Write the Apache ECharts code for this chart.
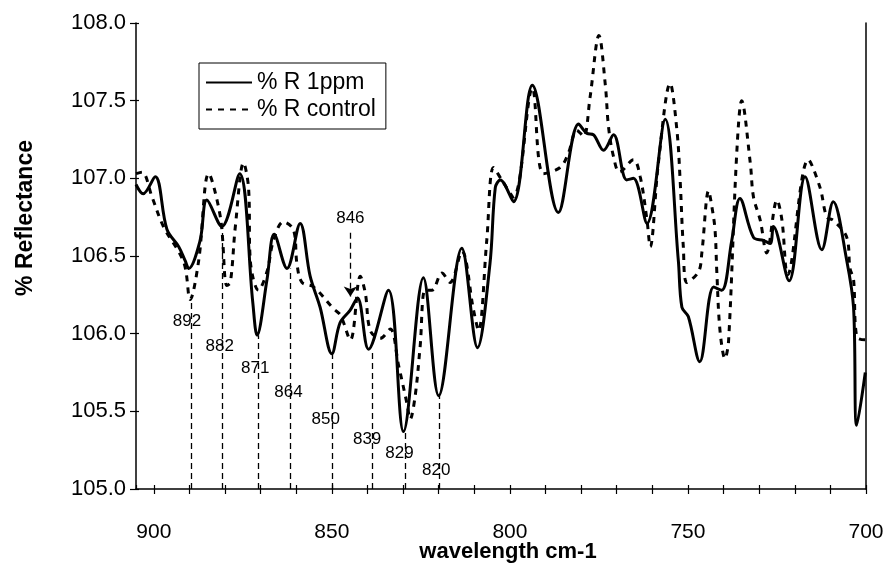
<!DOCTYPE html>
<html>
<head>
<meta charset="utf-8">
<script src="https://cdn.jsdelivr.net/npm/echarts@6/dist/echarts.min.js"></script>
<style>
html,body{margin:0;padding:0;background:#fff;}
#chart{width:888px;height:565px;}
</style>
</head>
<body>
<div id="chart"></div>
<script>
// ---- data ----
const ppmX = [905, 903, 899.6, 896.3, 893.0, 891.2, 890.2, 887, 885.1, 880.9, 875.9, 872.2, 871, 868.2, 866.2, 862.6, 858.9, 856.1, 853.3, 850, 847.7, 844.9, 842.8, 839.7, 834.1, 829.9, 824.3, 820.0, 813.5, 809.1, 805.6, 804.1, 802.7, 799, 793.7, 786.4, 780.7, 778.4, 776.5, 773.7, 770.9, 767.2, 765.3, 761.5, 756.4, 752.7, 751.7, 749.9, 746.7, 742.8, 740.5, 737.7, 735.4, 731.6, 728.8, 726.9, 726, 721.6, 717.1, 712.4, 709.2, 705.4, 703.5, 702.6, 700.2];
const ppmY = [106.96, 106.90, 107.01, 106.67, 106.56, 106.47, 106.42, 106.60, 106.86, 106.69, 107.03, 106.20, 105.99, 106.35, 106.64, 106.42, 106.71, 106.37, 106.17, 105.87, 106.07, 106.15, 106.23, 105.90, 106.28, 105.37, 106.36, 105.60, 106.55, 105.91, 106.45, 106.94, 106.99, 106.85, 107.60, 106.78, 107.35, 107.29, 107.28, 107.18, 107.28, 106.99, 107.00, 106.71, 107.38, 106.47, 106.17, 106.11, 105.82, 106.30, 106.28, 106.60, 106.87, 106.62, 106.60, 106.58, 106.69, 106.34, 107.01, 106.54, 106.85, 106.47, 106.17, 105.41, 105.75];

const ctrlX = [905, 903.3, 900.5, 897.3, 891.6, 889.8, 887.4, 884.6, 881.3, 879.5, 878.5, 877.1, 874.8, 873.4, 872.9, 870.6, 868.2, 866.4, 863.6, 860.8, 859.8, 858.4, 855.1, 849.5, 847.6, 844.8, 842.0, 840.6, 839.2, 836.4, 833.6, 831.3, 828.9, 828.0, 826.6, 825.2, 823.8, 821.9, 819.1, 816.8, 813.5, 810.2, 808.8, 806.5, 804.6, 802.3, 799, 793.7, 790.6, 785.9, 783.6, 781.2, 779.3, 777.5, 775.0, 773.2, 772.3, 770.9, 769.2, 765.3, 763.4, 761.5, 760.6, 758.3, 755.0, 753.1, 752.2, 751.3, 750.3, 747.0, 746.1, 744.2, 743.3, 742.4, 741.9, 741.0, 739.6, 738.6, 736.3, 734.9, 732.5, 731.6, 729.7, 727.9, 725.0, 723.6, 722.0, 716.2, 712.9, 711.0, 709.2, 705.4, 704.5, 703.5, 702.6, 700];
const ctrlY = [107.03, 107.04, 106.88, 106.69, 106.46, 106.22, 106.47, 107.03, 106.75, 106.31, 106.33, 106.69, 107.10, 106.94, 106.47, 106.28, 106.40, 106.60, 106.72, 106.67, 106.45, 106.33, 106.30, 106.16, 106.12, 105.96, 106.37, 106.26, 106.02, 105.97, 106.03, 105.80, 105.55, 105.45, 105.60, 105.92, 106.28, 106.28, 106.39, 106.33, 106.53, 106.15, 106.02, 106.60, 107.07, 106.99, 106.88, 107.58, 107.03, 107.07, 107.16, 107.31, 107.27, 107.52, 107.92, 107.60, 107.33, 107.14, 107.04, 107.12, 107.01, 106.73, 106.56, 107.10, 107.61, 107.31, 106.99, 106.56, 106.33, 106.40, 106.52, 106.92, 106.82, 106.67, 106.40, 106.02, 105.84, 105.95, 107.16, 107.50, 107.10, 106.88, 106.73, 106.52, 106.86, 106.73, 106.38, 107.12, 106.94, 106.75, 106.73, 106.62, 106.42, 106.35, 105.98, 105.96];

const xTickLabels = [900, 850, 800, 750, 700];
const yTickLabels = ['105.0','105.5','106.0','106.5','107.0','107.5','108.0'];

// peak annotations: label text, line position, line top, label position
const peakNames = ['892','882','871','864','850','839','829','820'];
const peakLineX = [889.5, 880.7, 870.6, 861.7, 849.8, 838.6, 829.4, 819.9];
const peakLineTop = [106.22, 106.69, 105.99, 106.42, 105.87, 105.90, 105.37, 105.60];
const peakLabelX = [890.7, 881.5, 871.5, 862.2, 851.7, 840.1, 831.0, 820.7];
const peakLabelY = [106.08, 105.92, 105.78, 105.62, 105.45, 105.32, 105.23, 105.12];

const arrowName = '846';
const arrowX = 844.8;
const arrowFrom = 106.65;
const arrowTo = 106.24;

const FONT = '"Liberation Sans", Arial, sans-serif';

const chart = echarts.init(document.getElementById('chart'), null, {renderer: 'canvas'});

const xBase = {
  type: 'value', inverse: true,
  min: 700, max: 905, interval: 10,
  splitLine: {show: false}
};
const yBase = {
  type: 'value', min: 105, max: 108, interval: 0.5,
  splitLine: {show: false}
};

const option = {
  animation: false,
  backgroundColor: '#fff',
  grid: {left: 136, right: 22, top: 23, bottom: 76, containLabel: false, outerBoundsMode: 'none'},
  legend: {
    orient: 'vertical',
    left: 199, top: 63,
    borderColor: '#000', borderWidth: 1,
    padding: [8, 10, 8, 6],
    itemWidth: 46, itemHeight: 14, itemGap: 4,
    itemStyle: {color: 'rgba(0,0,0,0)', borderWidth: 0, opacity: 0},
    textStyle: {fontFamily: FONT, fontSize: 23, color: '#000'},
    data: ['% R 1ppm', '% R control']
  },
  xAxis: [Object.assign({}, xBase, {
    position: 'bottom',
    axisLine: {lineStyle: {color: '#000', width: 1.5}},
    axisTick: {length: 5, lineStyle: {color: '#000', width: 1.2}},
    axisLabel: {
      showMaxLabel: false,
      margin: 33,
      fontFamily: FONT, fontSize: 21, color: '#000',
      formatter: v => xTickLabels.indexOf(v) >= 0 ? String(v) : ''
    }
  }), Object.assign({}, xBase, {
    position: 'bottom',
    axisLine: {show: false},
    axisTick: {inside: true, length: 4, lineStyle: {color: '#000', width: 1.2}},
    axisLabel: {show: false}
  })],
  yAxis: [Object.assign({}, yBase, {
    position: 'left',
    axisLine: {show: true, lineStyle: {color: '#000', width: 1.5}},
    axisTick: {show: true, length: 6, lineStyle: {color: '#000', width: 1.2}},
    axisLabel: {
      margin: 10,
      fontFamily: FONT, fontSize: 22, color: '#000',
      formatter: v => yTickLabels[Math.round((v - 105) / 0.5)]
    }
  }), Object.assign({}, yBase, {
    position: 'right',
    axisLine: {show: true, lineStyle: {color: '#000', width: 1.5}},
    axisTick: {show: false}, axisLabel: {show: false}
  }), Object.assign({}, yBase, {
    position: 'left',
    axisLine: {show: false},
    axisTick: {show: true, inside: true, length: 3, lineStyle: {color: '#000', width: 1.2}},
    axisLabel: {show: false}
  })],
  graphic: [{
    type: 'text',
    left: 14, top: 140,
    rotation: Math.PI / 2,
    style: {text: '% Reflectance', fontFamily: FONT, fontSize: 23, fontWeight: 'bold', fill: '#000'}
  }, {
    type: 'text',
    x: 508, y: 552,
    style: {text: 'wavelength cm-1', fontFamily: FONT, fontSize: 22, fontWeight: 'bold', fill: '#000',
            align: 'center', verticalAlign: 'middle'}
  }],
  series: [
    {
      name: '% R 1ppm',
      type: 'line',
      data: ppmX.map((x, i) => [x, ppmY[i]]),
      symbol: 'none',
      smooth: 0.35,
      lineStyle: {color: '#000', width: 3},
      itemStyle: {color: '#000'},
      z: 3
    },
    {
      name: '% R control',
      type: 'line',
      data: ctrlX.map((x, i) => [x, ctrlY[i]]),
      symbol: 'none',
      smooth: 0.35,
      lineStyle: {color: '#000', width: 3, type: [6, 6]},
      itemStyle: {color: '#000'},
      z: 2
    },
    {
      name: 'peaks',
      type: 'scatter',
      symbolSize: 1,
      itemStyle: {opacity: 0},
      data: peakNames.map((n, i) => ({name: n, value: [peakLabelX[i], peakLabelY[i]]}))
        .concat([{name: arrowName, value: [arrowX, arrowFrom + 0.09]}]),
      label: {
        show: true, position: 'inside', formatter: p => p.name,
        fontFamily: FONT, fontSize: 17, color: '#000', opacity: 1,
        textBorderWidth: 0
      },
      markLine: {
        silent: true,
        symbol: ['none', 'none'],
        lineStyle: {color: '#000', width: 1.3, type: [6, 4], opacity: 1},
        label: {show: false},
        data: peakNames.map((n, i) => [
          {coord: [peakLineX[i], 105]},
          {coord: [peakLineX[i], peakLineTop[i]]}
        ]).concat([[
          {coord: [arrowX, arrowFrom], symbol: 'none'},
          {coord: [arrowX, arrowTo], symbol: 'arrow', symbolSize: 10}
        ]])
      }
    }
  ]
};
chart.setOption(option);
</script>
</body>
</html>
